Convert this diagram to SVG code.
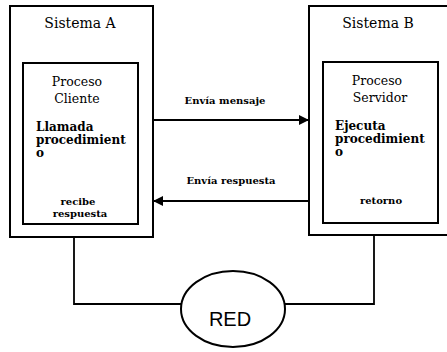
<svg xmlns="http://www.w3.org/2000/svg" width="447" height="352" viewBox="0 0 447 352">
  <style>
    .box { fill: none; stroke: #000; stroke-width: 2; }
    .wire { fill: none; stroke: #000; stroke-width: 1.8; }
    .title { font-family: "DejaVu Serif", "Liberation Serif", serif; font-size: 14px; fill: #000; text-anchor: middle; }
    .proc { font-family: "DejaVu Serif", "Liberation Serif", serif; font-size: 12.5px; fill: #000; text-anchor: middle; }
    .step { font-family: "DejaVu Serif", "Liberation Serif", serif; font-size: 12px; font-weight: bold; fill: #000; }
    .small { font-family: "DejaVu Serif", "Liberation Serif", serif; font-size: 10px; font-weight: bold; fill: #000; text-anchor: middle; }
    .net { font-family: "Liberation Sans", Arial, sans-serif; font-size: 20px; fill: #000; text-anchor: middle; }
  </style>
  <defs>
    <marker id="arrow" viewBox="0 0 10 10" refX="10" refY="5" markerWidth="10" markerHeight="10" markerUnits="userSpaceOnUse" orient="auto">
      <path d="M0,0 L10,5 L0,10 Z" fill="#000"/>
    </marker>
  </defs>
  <rect width="447" height="352" fill="#fff"/>

  <!-- Host A with the client process -->
  <g id="sistema-a">
    <rect class="box" x="10" y="6" width="143" height="231"/>
    <text class="title" x="80" y="28">Sistema A</text>
  </g>
  <g id="proceso-cliente">
    <rect class="box" x="23" y="63" width="115" height="161"/>
    <text class="proc" x="77" y="86">Proceso</text>
    <text class="proc" x="77" y="103">Cliente</text>
    <text class="step" x="36" y="131">Llamada</text>
    <text class="step" x="36" y="144">procedimient</text>
    <text class="step" x="36" y="157">o</text>
    <text class="small" x="78" y="205">recibe</text>
    <text class="small" x="80" y="217">respuesta</text>
  </g>

  <!-- Host B with the server process -->
  <g id="sistema-b">
    <rect class="box" x="309" y="6" width="140" height="229"/>
    <text class="title" x="378" y="28">Sistema B</text>
  </g>
  <g id="proceso-servidor">
    <rect class="box" x="323" y="62" width="115" height="161"/>
    <text class="proc" x="377" y="85">Proceso</text>
    <text class="proc" x="380" y="102">Servidor</text>
    <text class="step" x="335" y="130">Ejecuta</text>
    <text class="step" x="335" y="143">procedimient</text>
    <text class="step" x="335" y="156">o</text>
    <text class="small" x="381" y="204">retorno</text>
  </g>

  <!-- Network -->
  <g id="red">
    <ellipse class="box" cx="233" cy="309" rx="52" ry="38"/>
    <text class="net" x="230" y="326">RED</text>
  </g>

  <!-- Messages and network links -->
  <g id="connectors">
    <line class="wire" x1="153" y1="120" x2="309" y2="120" marker-end="url(#arrow)"/>
    <text class="small" x="225" y="104">Envía mensaje</text>
    <line class="wire" x1="309" y1="201" x2="153" y2="201" marker-end="url(#arrow)"/>
    <text class="small" x="231" y="184">Envía respuesta</text>
    <polyline class="wire" points="74,237 74,304 181,304"/>
    <polyline class="wire" points="374,235 374,304 285,304"/>
  </g>
</svg>
